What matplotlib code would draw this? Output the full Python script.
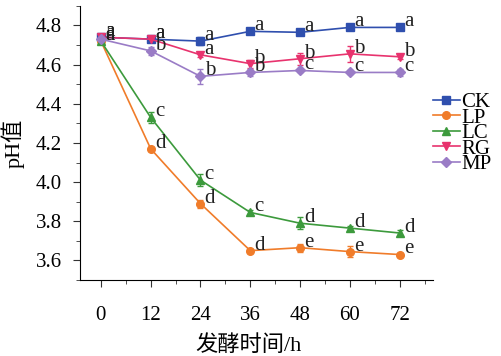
import numpy as np
import matplotlib
matplotlib.use('agg')
import matplotlib.pyplot as plt
from matplotlib.ticker import MultipleLocator
from matplotlib.lines import Line2D

plt.rcParams['font.family'] = ['Liberation Serif', 'Noto Sans CJK SC']

hours = [0, 12, 24, 36, 48, 60, 72]
names = ['CK', 'LP', 'LC', 'RG', 'MP']
ck = [4.74, 4.73, 4.72, 4.77, 4.765, 4.79, 4.79]
lp = [4.72, 4.17, 3.89, 3.65, 3.665, 3.645, 3.63]
lc = [4.72, 4.33, 4.01, 3.845, 3.79, 3.765, 3.74]
rg = [4.74, 4.73, 4.65, 4.605, 4.63, 4.655, 4.64]
mp = [4.73, 4.67, 4.54, 4.56, 4.57, 4.56, 4.56]
ck_err = [0.01, 0.01, 0.02, 0.01, 0.01, 0.01, 0.01]
lp_err = [0.01, 0.01, 0.02, 0.01, 0.02, 0.03, 0.01]
lc_err = [0.01, 0.03, 0.03, 0.015, 0.03, 0.01, 0.015]
rg_err = [0.01, 0.01, 0.01, 0.02, 0.03, 0.04, 0.01]
mp_err = [0.01, 0.02, 0.04, 0.02, 0.01, 0.01, 0.02]
ck_sig = ['a', 'a', 'a', 'a', 'a', 'a', 'a']
lp_sig = ['a', 'd', 'd', 'd', 'e', 'e', 'e']
lc_sig = ['a', 'c', 'c', 'c', 'd', 'd', 'd']
rg_sig = ['a', 'a', 'a', 'b', 'b', 'b', 'b']
mp_sig = ['a', 'b', 'b', 'b', 'c', 'c', 'c']

series = [ck, lp, lc, rg, mp]
errs = [ck_err, lp_err, lc_err, rg_err, mp_err]
sigs = [ck_sig, lp_sig, lc_sig, rg_sig, mp_sig]
colors = ['#2f4fae', '#f07c2a', '#3c9a3c', '#e8336e', '#9a7cc6']
markers = ['s', 'o', '^', 'v', 'D']
msizes = [5.5, 5.5, 6, 6, 5]

fig = plt.figure(figsize=(5.01, 3.56), dpi=100)
ax = fig.add_axes([0.16, 0.2135, 0.704, 0.77])

handles = []
for y, e, s, c, m, ms, n in zip(series, errs, sigs, colors, markers, msizes, names):
    ax.errorbar(hours, y, yerr=e, color=c, marker=m, ms=ms, lw=1.2,
                elinewidth=1, capsize=2, capthick=1)
    handles.append(Line2D([], [], color=c, marker=m, ms=ms, lw=1.2, label=n))
    for x, v, t in zip(hours, y, s):
        ax.annotate(t, (x, v), xytext=(3, 4), textcoords='offset points',
                    fontsize=15, va='center', ha='left', color='#222222')

ax.set_xlim(-5, 80)
ax.set_ylim(3.5, 4.9)
ax.set_xticks(hours)
ax.xaxis.set_minor_locator(MultipleLocator(6))
ax.set_yticks([3.6, 3.8, 4.0, 4.2, 4.4, 4.6, 4.8])
ax.yaxis.set_minor_locator(MultipleLocator(0.1))
ax.tick_params(which='both', direction='out', labelsize=15, color='#333333')
ax.tick_params(which='major', length=5)
ax.tick_params(which='minor', length=3)
ax.tick_params(axis='x', which='major', pad=14)
ax.tick_params(axis='y', which='major', pad=8)
ax.set_yticklabels(['3.6', '3.8', '4.0', '4.2', '4.4', '4.6', '4.8'])
for sp in ['top', 'right']:
    ax.spines[sp].set_visible(False)
ax.set_ylabel('pH值', fontsize=16, labelpad=8)
ax.set_xlabel('发酵时间/h', fontsize=16, labelpad=6)
ax.xaxis.set_label_coords(0.476, -0.2)

ax.legend(handles=handles, loc='center left', bbox_to_anchor=(1.0, 0.535),
          frameon=False, fontsize=15, handlelength=1.3, handletextpad=0.05,
          labelspacing=-0.2, borderaxespad=0, borderpad=0)

fig.savefig('out.png', dpi=100)
